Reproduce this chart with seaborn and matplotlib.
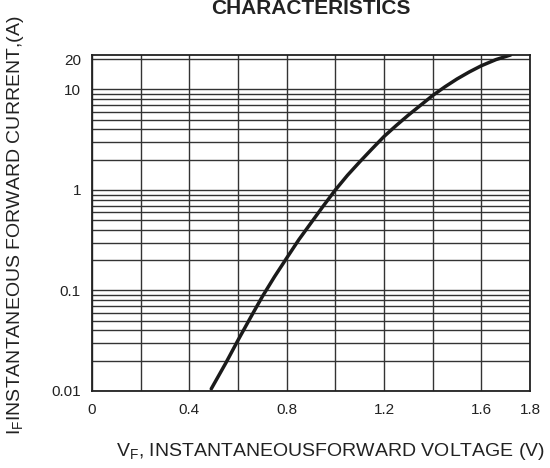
import matplotlib
matplotlib.use('Agg')
import matplotlib.pyplot as plt
import matplotlib.ticker as mticker
import seaborn as sns
import pandas as pd

# Forward voltage (V) vs instantaneous forward current (A)
vf = [0.49, 0.55, 0.60, 0.65, 0.70, 0.75, 0.80, 0.85, 0.90, 0.95, 1.00, 1.05, 1.10,
      1.15, 1.20, 1.25, 1.30, 1.35, 1.40, 1.45, 1.50, 1.55, 1.60, 1.66, 1.72]
i_f = [0.0105, 0.019, 0.032, 0.053, 0.087, 0.137, 0.21, 0.32, 0.47, 0.69, 1.0, 1.40, 1.9,
       2.55, 3.4, 4.37, 5.55, 6.95, 8.7, 10.6, 12.7, 14.9, 17.2, 19.8, 22.0]

x_major = [0, 0.4, 0.8, 1.2, 1.6, 1.8]
x_minor = [0.2, 0.6, 1.0, 1.4]
y_major = [0.01, 0.1, 1, 10, 20]
y_labels = ['0.01', '0.1', '1', '10', '20']

df = pd.DataFrame({'vf': vf, 'if': i_f})

sns.set_theme(style='white')
plt.rcParams['font.family'] = ['Liberation Sans', 'DejaVu Sans']
plt.rcParams['mathtext.fontset'] = 'custom'
plt.rcParams['mathtext.rm'] = 'Liberation Sans'

ink = '#222222'
fig = plt.figure(figsize=(5.5, 4.68), dpi=100)
ax = fig.add_axes([92 / 550, 1 - 391 / 468, 438 / 550, 336 / 468])

sns.lineplot(data=df, x='vf', y='if', ax=ax, color='#1a1a1a', linewidth=2.5)

ax.set_yscale('log')
ax.set_xlim(0, 1.8)
ax.set_ylim(0.01, 22)

ax.xaxis.set_major_locator(mticker.FixedLocator(x_major))
ax.xaxis.set_minor_locator(mticker.FixedLocator(x_minor))
ax.xaxis.set_major_formatter(mticker.FixedFormatter([f'{v:g}' for v in x_major]))

ax.yaxis.set_major_locator(mticker.FixedLocator(y_major))
ax.yaxis.set_major_formatter(mticker.FixedFormatter(y_labels))
minor_y = [m * d for d in (0.01, 0.1, 1) for m in range(2, 10)]
ax.yaxis.set_minor_locator(mticker.FixedLocator(minor_y))
ax.yaxis.set_minor_formatter(mticker.NullFormatter())

ax.grid(True, which='both', color='#333333', linewidth=1.0)
ax.set_axisbelow(True)
ax.tick_params(axis='both', which='both', length=0, labelsize=11, colors=ink)
ax.tick_params(axis='x', pad=9)
ax.tick_params(axis='y', pad=8)

for s in ax.spines.values():
    s.set_color(ink)
    s.set_linewidth(1.3)

ax.set_xlabel('')
ax.set_ylabel('')

fig.text(311 / 550, 1 - 14 / 468, 'CHARACTERISTICS', ha='center', va='baseline',
         fontsize=15, fontweight='bold', color=ink)
fig.text(331 / 550, 1 - 452 / 468, r'V$_\mathregular{F}$, INSTANTANEOUSFORWARD VOLTAGE (V)',
         ha='center', va='center', fontsize=14, color=ink)
fig.text(16 / 550, 1 - 225 / 468, r'I$_\mathregular{F}$INSTANTANEOUS FORWARD CURRENT,(A)',
         ha='center', va='center', rotation=90, fontsize=14, color=ink)

fig.savefig('out.png', dpi=100)
